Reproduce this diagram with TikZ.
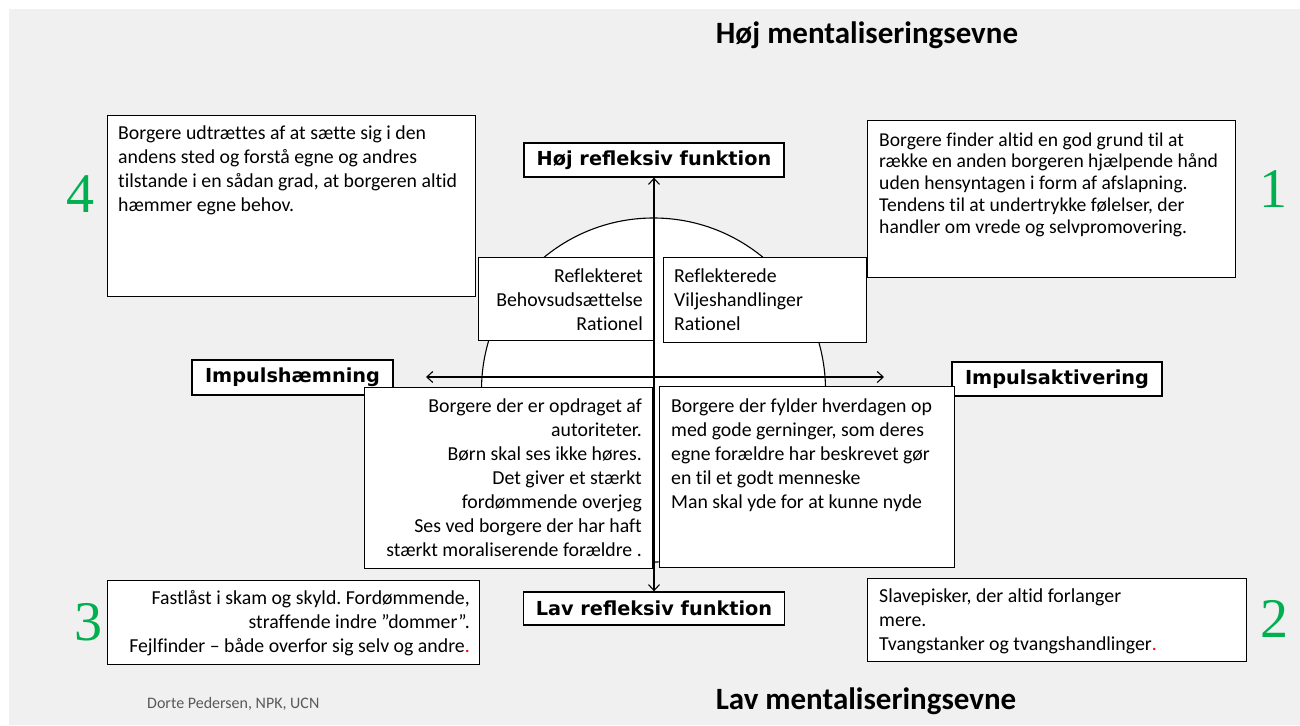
\documentclass[tikz,border=0pt]{standalone}
\usepackage{fontspec}
\setmainfont{Carlito}[Ligatures={NoCommon}]
\newfontfamily\lblfont{DejaVu Sans}
\newfontfamily\numfont{Liberation Serif}
\usetikzlibrary{arrows.meta}
\definecolor{bggray}{HTML}{F0F0F0}
\definecolor{numgreen}{HTML}{00B050}
\definecolor{footgray}{HTML}{595959}
\newcommand\firstln{\rule{0pt}{16pt}}
\frenchspacing
\begin{document}
\begin{tikzpicture}[x=1pt,y=-1pt,
  tbox/.style={rectangle, draw=black, line width=1.3pt, fill=white, inner sep=0pt, anchor=north west},
  lbl/.style={rectangle, draw=black, line width=1.3pt, fill=white, inner sep=0pt, font=\lblfont\bfseries\fontsize{19.3}{22}\selectfont},
  btxt/.style={inner sep=0pt, font=\fontsize{19.8}{24}\selectfont},
  axis/.style={line width=1.1pt, {Straight Barb[length=6pt,width=11pt]}-{Straight Barb[length=6pt,width=11pt]}},
  num/.style={font=\numfont\fontsize{56}{60}\selectfont, text=numgreen, inner sep=0pt, anchor=base},
  ttl/.style={font=\bfseries\fontsize{31}{36}\selectfont, inner sep=0pt, anchor=base}]
\useasboundingbox (0,0) rectangle (1300,725);
\fill[white] (0,0) rectangle (1300,725);
\fill[bggray] (9,9) rectangle (1300,725);

% circle
\node[circle, draw=black, line width=1.1pt, fill=white, minimum size=344pt, inner sep=0pt] (circ) at (653.5,390) {};

% axis labels
\node[lbl, minimum width=260pt, minimum height=34pt] (hoj) at (654,160) {Høj refleksiv funktion};
\node[lbl, minimum width=261pt, minimum height=33pt] (lav) at (654,608.5) {Lav refleksiv funktion};
\node[lbl, minimum width=201pt, minimum height=35pt] (imph) at (292.5,377.5) {Impulshæmning};
\node[lbl, minimum width=210pt, minimum height=34pt] (impa) at (1057,379) {Impulsaktivering};

% axes
\coordinate (hl) at (426,377);
\coordinate (hr) at (884,377);
\draw[axis] (hoj.south) -- (lav.north);
\draw[axis] (hl) -- (hr);

% quadrant 4 box
\node[tbox, minimum width=368pt, minimum height=181pt] (b4) at (107,115) {};
\node[btxt, align=left, anchor=north west] (t4) at (118,123) {\firstln Borgere udtrættes af at sætte sig i den\\andens sted og forstå egne og andres\\tilstande i en sådan grad, at borgeren altid\\hæmmer egne behov.};

% quadrant 1 box
\node[tbox, minimum width=368pt, minimum height=157pt] (b1) at (867,120) {};
\node[btxt, align=left, anchor=north west, font=\fontsize{19.6}{21.7}\selectfont] (t1) at (879,130) {\firstln Borgere finder altid en god grund til at\\række en anden borgeren hjælpende hånd\\uden hensyntagen i form af afslapning.\\Tendens til at undertrykke følelser, der\\handler om vrede og selvpromovering.};

% upper centre boxes
\node[tbox, minimum width=175pt, minimum height=83pt] (bul) at (478,257) {};
\node[btxt, align=right, anchor=north east] (tul) at (643,266) {\firstln Reflekteret\\Behovsudsættelse\\Rationel};
\node[tbox, minimum width=203pt, minimum height=85pt] (bur) at (663,257) {};
\node[btxt, align=left, anchor=north west] (tur) at (674,266) {\firstln Reflekterede\\Viljeshandlinger\\Rationel};

% lower centre boxes
\node[tbox, minimum width=288pt, minimum height=181pt] (bll) at (364,387) {};
\node[btxt, align=right, anchor=north east] (tll) at (642,396) {\firstln Borgere der er opdraget af\\autoriteter.\\Børn skal ses ikke høres.\\Det giver et stærkt\\fordømmende overjeg\\Ses ved borgere der har haft\\stærkt moraliserende forældre .};
\node[tbox, minimum width=295pt, minimum height=181pt] (blr) at (659,386) {};
\node[btxt, align=left, anchor=north west] (tlr) at (671,396) {\firstln Borgere der fylder hverdagen op\\med gode gerninger, som deres\\egne forældre har beskrevet gør\\en til et godt menneske\\Man skal yde for at kunne nyde};

% quadrant 3 box
\node[tbox, minimum width=372pt, minimum height=84pt] (b3) at (107,580) {};
\node[btxt, align=right, anchor=north east] (t3) at (470,588) {\firstln Fastlåst i skam og skyld. Fordømmende,\\straffende indre ”dommer”.\\Fejlfinder – både overfor sig selv og andre\textcolor{red}{.}};

% quadrant 2 box
\node[tbox, minimum width=379pt, minimum height=83pt] (b2) at (867,578) {};
\node[btxt, align=left, anchor=north west] (t2) at (879,586) {\firstln Slavepisker, der altid forlanger\\mere.\\Tvangstanker og tvangshandlinger\textcolor{red}{.}};

% numbers
\node[num] (n4) at (80,212) {4};
\node[num] (n1) at (1273,207) {1};
\node[num] (n3) at (88,640) {3};
\node[num] (n2) at (1274,637) {2};

% titles
\node[ttl] (th) at (867,43.5) {Høj mentaliseringsevne};
\node[ttl] (tl) at (866,709) {Lav mentaliseringsevne};
\node[inner sep=0pt, anchor=base west, font=\fontsize{16}{19}\selectfont, text=footgray] (foot) at (147,708) {Dorte Pedersen, NPK, UCN};
\end{tikzpicture}
\end{document}
